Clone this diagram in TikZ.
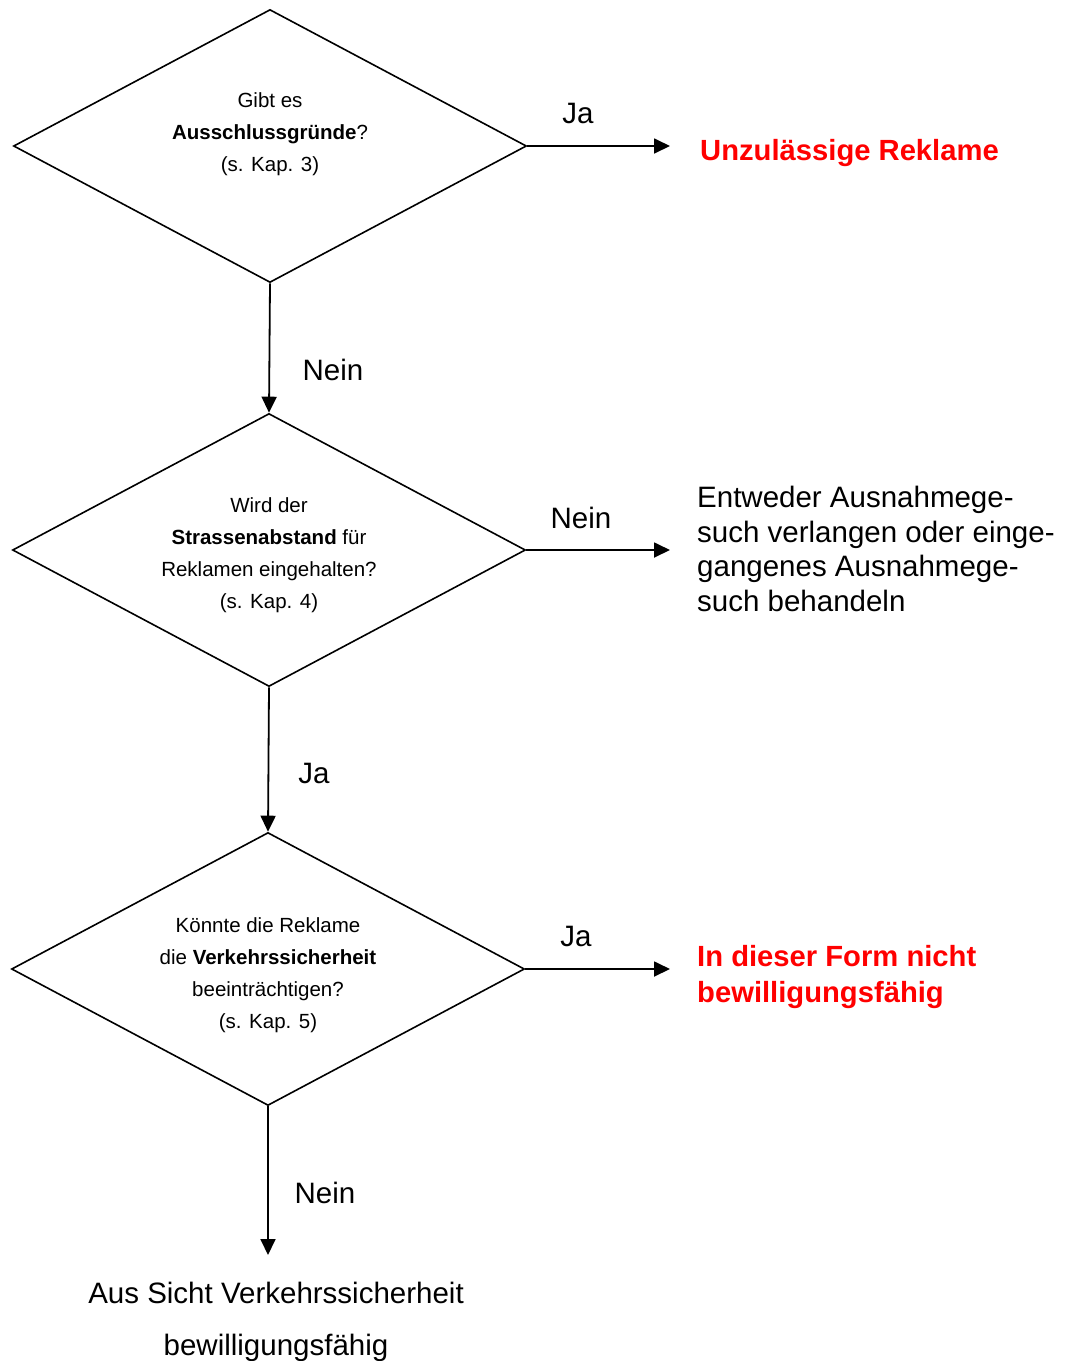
\documentclass[tikz,border=0pt]{standalone}
\usepackage{fontspec}
\setmainfont{Liberation Sans}
\usetikzlibrary{shapes.geometric,arrows.meta}
\definecolor{warnred}{RGB}{255,0,0}
\tikzset{
 frage/.style={diamond,draw,line width=1.6pt,minimum width=513pt,minimum height=273pt,
  inner sep=0pt,aspect=1.88},
 fragetext/.style={inner sep=0pt,align=center,font=\fontsize{20.5}{32}\selectfont},
 pfeil/.style={line width=1.8pt,-{Triangle[length=16pt,width=15pt]}},
 antwort/.style={inner sep=0pt,font=\fontsize{29.5}{34.5}\selectfont},
 ergebnis/.style={inner sep=0pt,anchor=west,align=left,text=warnred,
  font=\fontsize{29.2}{36}\selectfont\bfseries},
}
\begin{document}
\begin{tikzpicture}[x=1pt,y=-1pt]
\useasboundingbox (0,0) rectangle (1067,1361);
\node[frage] (d1) at (270,146) {};
\node[frage] (d2) at (269,550) {};
\node[frage] (d3) at (268,969) {};
\node[fragetext] (t1) at ([yshift=12pt]d1.center) {Gibt es\\\textbf{Ausschlussgründe}?\\(s. Kap. 3)};
\node[fragetext] (t2) at ([yshift=-5pt]d2.center) {Wird der\\\textbf{Strassenabstand} für\\Reklamen eingehalten?\\(s. Kap. 4)};
\node[fragetext] (t3) at ([yshift=-6.5pt]d3.center) {Könnte die Reklame\\die \textbf{Verkehrssicherheit}\\beeinträchtigen?\\(s. Kap. 5)};
\coordinate (e1) at (670,148);
\coordinate (e2) at (670,552);
\coordinate (e3) at (670,970);
\coordinate (e4) at (268,1255);
\node[ergebnis] (r1) at (700,153) {Unzulässige Reklame};
\node[antwort,anchor=west,align=left] (r2) at (697,549) {Entweder Ausnahmege-\\such verlangen oder einge-\\gangenes Ausnahmege-\\such behandeln};
\node[ergebnis] (r3) at (697,977) {In dieser Form nicht\\bewilligungsfähig};
\node[antwort,align=center,font=\fontsize{29.5}{52}\selectfont] (r4) at (276,1322) {Aus Sicht Verkehrssicherheit\\bewilligungsfähig};
\draw[pfeil] (d1.east) -- (d1.east -| e1);
\draw[pfeil] (d1.south) -- (d2.north);
\draw[pfeil] (d2.east) -- (d2.east -| e2);
\draw[pfeil] (d2.south) -- (d3.north);
\draw[pfeil] (d3.east) -- (d3.east -| e3);
\draw[pfeil] (d3.south) -- (e4);
\node[antwort] (l1) at (578,113) {Ja};
\node[antwort] (l2) at (333,370) {Nein};
\node[antwort] (l3) at (581,518) {Nein};
\node[antwort] (l4) at (314,773) {Ja};
\node[antwort] (l5) at (576,936) {Ja};
\node[antwort] (l6) at (325,1193) {Nein};
\end{tikzpicture}
\end{document}
